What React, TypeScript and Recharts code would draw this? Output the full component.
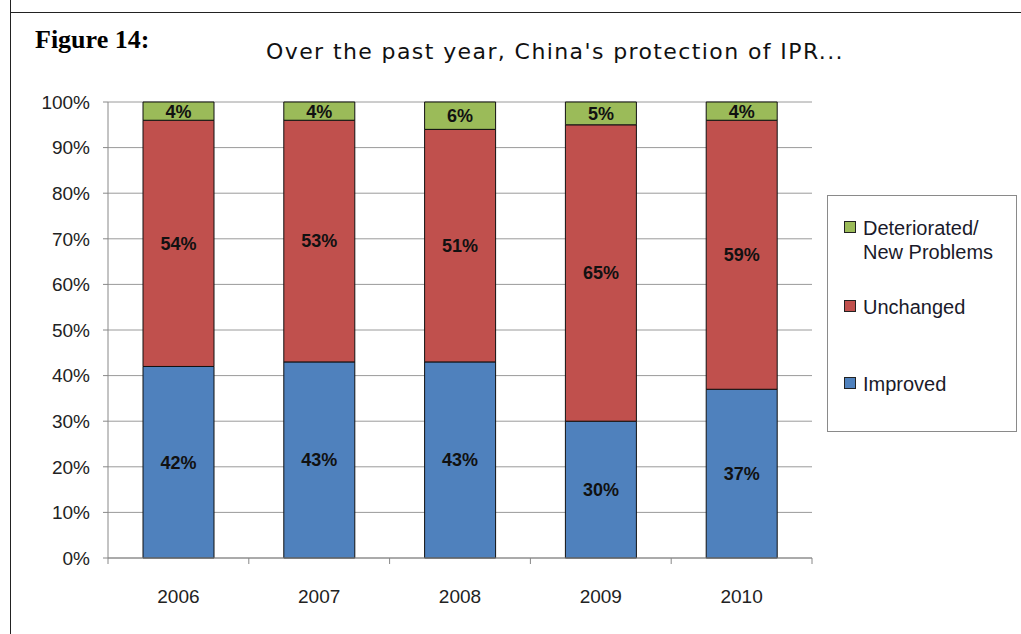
import React from 'react';
import {
  BarChart,
  Bar,
  XAxis,
  YAxis,
  CartesianGrid,
  LabelList,
} from 'recharts';

const years = ['2006', '2007', '2008', '2009', '2010'];
const improved = [42, 43, 43, 30, 37];
const unchanged = [54, 53, 51, 65, 59];
const deteriorated = [4, 4, 6, 5, 4];
const yTicks = [0, 10, 20, 30, 40, 50, 60, 70, 80, 90, 100];

const BLUE = '#4F81BD';
const RED = '#C0504D';
const GREEN = '#9BBB59';

const data = years.map((year, i) => ({
  year,
  improved: improved[i],
  unchanged: unchanged[i],
  deteriorated: deteriorated[i],
}));

const legendItems = [
  { label: ['Deteriorated/', 'New Problems'], color: GREEN, top: 20 },
  { label: ['Unchanged'], color: RED, top: 99 },
  { label: ['Improved'], color: BLUE, top: 176 },
];

const font = '"Liberation Sans", Arial, sans-serif';
const BAND = 704 / years.length;

const YearTick = (props: any) => {
  const { x, y, index, payload } = props;
  return (
    <g>
      <line x1={x - BAND / 2} x2={x - BAND / 2} y1={y} y2={y + 6} stroke="#888" />
      {index === years.length - 1 && (
        <line x1={x + BAND / 2} x2={x + BAND / 2} y1={y} y2={y + 6} stroke="#888" />
      )}
      <text x={x} y={y + 45} textAnchor="middle" fontFamily={font} fontSize={19} fill="#222">
        {payload.value}
      </text>
    </g>
  );
};

const Legendbox = () => (
  <div
    style={{
      position: 'absolute',
      left: 827,
      top: 195,
      width: 188,
      height: 235,
      border: '1px solid #8a8a8a',
      background: '#fff',
      fontFamily: font,
      fontSize: 20,
      color: '#1a1a2a',
    }}
  >
    {legendItems.map((item) => (
      <div key={item.label[0]} style={{ position: 'absolute', left: 16, top: item.top }}>
        <span
          style={{
            position: 'absolute',
            left: 0,
            top: 5,
            width: 10,
            height: 10,
            background: item.color,
            border: '1px solid #222',
          }}
        />
        <div style={{ marginLeft: 19, lineHeight: '24px', whiteSpace: 'nowrap' }}>
          {item.label.map((l) => (
            <div key={l}>{l}</div>
          ))}
        </div>
      </div>
    ))}
  </div>
);

const labelStyle = { fontFamily: font, fontSize: 18, fontWeight: 'bold' as const, fill: '#111' };

export default function App() {
  return (
    <div style={{ position: 'absolute', left: 0, top: 0, width: 1021, height: 634, background: '#fff' }}>
      <div
        style={{
          position: 'absolute',
          left: 10,
          top: 12,
          width: 1011,
          height: 622,
          borderTop: '1px solid #222',
          borderLeft: '1px solid #222',
        }}
      />
      <div style={{ position: 'absolute', left: 10, top: 0, width: 1, height: 12, background: '#222' }} />
      <div
        style={{
          position: 'absolute',
          left: 35,
          top: 25,
          fontFamily: '"Liberation Serif", "Times New Roman", serif',
          fontWeight: 'bold',
          fontSize: 26,
          color: '#000',
        }}
      >
        Figure 14:
      </div>
      <div
        style={{
          position: 'absolute',
          left: 200,
          width: 710,
          top: 39,
          textAlign: 'center',
          fontFamily: '"DejaVu Sans", sans-serif',
          fontSize: 22,
          letterSpacing: 1.4,
          color: '#111',
        }}
      >
        Over the past year, China's protection of IPR...
      </div>
      <div style={{ position: 'absolute', left: 0, top: 0 }}>
        <BarChart
          width={1021}
          height={634}
          data={data}
          margin={{ top: 102, right: 209, left: 48, bottom: 36 }}
        >
          <CartesianGrid vertical={false} stroke="#9a9a9a" />
          <XAxis
            dataKey="year"
            axisLine={{ stroke: '#888' }}
            tickLine={false}
            tickSize={0}
            tickMargin={0}
            height={40}
            interval={0}
            tick={<YearTick />}
          />
          <YAxis
            domain={[0, 100]}
            ticks={yTicks}
            interval={0}
            width={60}
            tickFormatter={(v: number) => `${v}%`}
            axisLine={{ stroke: '#888' }}
            tickLine={{ stroke: '#888' }}
            tickSize={5}
            tickMargin={13}
            tick={{ fontFamily: font, fontSize: 19, fill: '#222' }}
          />
          <Bar dataKey="improved" name="Improved" stackId="a" fill={BLUE} stroke="#111" strokeWidth={1} barSize={71} isAnimationActive={false}>
            <LabelList dataKey="improved" position="center" formatter={(v: any) => `${v}%`} style={labelStyle} />
          </Bar>
          <Bar dataKey="unchanged" name="Unchanged" stackId="a" fill={RED} stroke="#111" strokeWidth={1} barSize={71} isAnimationActive={false}>
            <LabelList dataKey="unchanged" position="center" formatter={(v: any) => `${v}%`} style={labelStyle} />
          </Bar>
          <Bar dataKey="deteriorated" name="Deteriorated/New Problems" stackId="a" fill={GREEN} stroke="#111" strokeWidth={1} barSize={71} isAnimationActive={false}>
            <LabelList dataKey="deteriorated" position="center" formatter={(v: any) => `${v}%`} style={labelStyle} />
          </Bar>
        </BarChart>
      </div>
      <Legendbox />
    </div>
  );
}
